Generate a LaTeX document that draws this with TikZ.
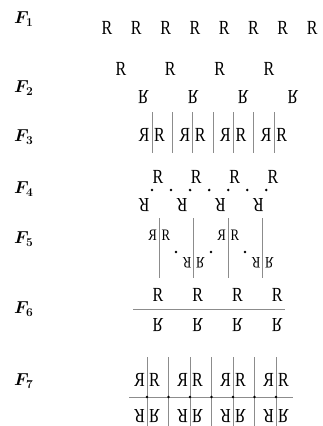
\documentclass[tikz,border=0pt]{standalone}
\usepackage{fontspec}
\setmainfont{Liberation Serif}
\usepackage{bm}
\newcommand\gR{\scalebox{0.8}[1]{R}}
\newcommand\gL{\reflectbox{\gR}}
\newcommand\gV{\scalebox{1}[-1]{\gR}}
\newcommand\gT{\rotatebox{180}{\gR}}
\begin{document}
\begin{tikzpicture}[x=1pt,y=-1pt,
  glyph/.style={inner sep=0pt,font=\fontsize{20}{22}\selectfont},
  sglyph/.style={inner sep=0pt,font=\fontsize{16}{18}\selectfont},
  lbl/.style={inner sep=0pt,anchor=base west,font=\fontsize{16.5}{18}\selectfont},
  axis/.style={draw=black!45,line width=0.8pt},
  pt/.style={circle,fill=black,inner sep=0pt,minimum size=2.8pt}]
\useasboundingbox (0,0) rectangle (322,426);
% labels
\node[lbl] (l1) at (14,23.5) {$\bm{F_1}$};
\node[lbl] (l2) at (14,92.5) {$\bm{F_2}$};
\node[lbl] (l3) at (14,141.5) {$\bm{F_3}$};
\node[lbl] (l4) at (14,193.5) {$\bm{F_4}$};
\node[lbl] (l5) at (14,243.5) {$\bm{F_5}$};
\node[lbl] (l6) at (14,313.5) {$\bm{F_6}$};
\node[lbl] (l7) at (14,385.5) {$\bm{F_7}$};
% F1
\foreach \i in {0,...,7}
  \node[glyph] (a\i) at ({107+29.3*\i},28) {\gR};
% F2
\foreach \i in {0,...,3}{
  \node[glyph] (b\i) at ({121+49.3*\i},69) {\gR};
  \node[glyph] (bb\i) at ({143.5+49.8*\i},97) {\gV};
}
% F3
\foreach \k in {0,...,3}{
  \coordinate (c\k t) at ({152+40.7*\k},112);
  \coordinate (c\k b) at ({152+40.7*\k},153);
  \draw[axis] (c\k t) -- (c\k b);
  \node[glyph] (cl\k) at ({152+40.7*\k-8},135) {\gL};
  \node[glyph] (cr\k) at ({152+40.7*\k+7.5},135) {\gR};
}
\foreach \k in {0,...,2}{
  \coordinate (cm\k t) at ({172.3+40.7*\k},112);
  \coordinate (cm\k b) at ({172.3+40.7*\k},153);
  \draw[axis] (cm\k t) -- (cm\k b);
}
% F4
\foreach \i in {0,...,3}{
  \node[glyph] (d\i) at ({158+38.3*\i},177) {\gR};
  \node[glyph] (dd\i) at ({144+38.1*\i},205) {\gT};
}
\foreach \i in {0,...,6}
  \node[pt] (dp\i) at ({152+19.05*\i},190) {};
% F5
\foreach \x [count=\k] in {159,193.5,228,262.5}{
  \coordinate (e\k t) at (\x,218);
  \coordinate (e\k b) at (\x,278);
  \draw[axis] (e\k t) -- (e\k b);
}
\node[sglyph] (el1) at (152.5,235) {\gL};
\node[sglyph] (er1) at (166,235) {\gR};
\node[sglyph] (el3) at (221.5,235) {\gL};
\node[sglyph] (er3) at (235,235) {\gR};
\node[sglyph] (el2) at (187,263) {\gT};
\node[sglyph] (er2) at (200.5,263) {\gV};
\node[sglyph] (el4) at (256,263) {\gT};
\node[sglyph] (er4) at (269.5,263) {\gV};
\node[pt] (ep1) at (176,252) {};
\node[pt] (ep2) at (211,252) {};
\node[pt] (ep3) at (245,252) {};
% F6
\coordinate (fl) at (133,309);
\coordinate (fr) at (285,309);
\draw[axis] (fl) -- (fr);
\foreach \i in {0,...,3}{
  \node[glyph] (f\i) at ({158+39.7*\i},295) {\gR};
  \node[glyph] (ff\i) at ({158+39.7*\i},325) {\gV};
}
% F7
\coordinate (gl) at (129,397);
\coordinate (gr) at (293,397);
\draw[axis] (gl) -- (gr);
\foreach \i in {0,...,6}{
  \coordinate (g\i t) at ({147+21.5*\i},357);
  \coordinate (g\i b) at ({147+21.5*\i},426);
  \draw[axis] (g\i t) -- (g\i b);
  \node[pt] (gp\i) at ({147+21.5*\i},397) {};
}
\foreach \k in {0,...,3}{
  \node[glyph] (gtl\k) at ({147+43*\k-7.5},380) {\gL};
  \node[glyph] (gtr\k) at ({147+43*\k+7.5},380) {\gR};
  \node[glyph] (gbl\k) at ({147+43*\k-7.5},416) {\gT};
  \node[glyph] (gbr\k) at ({147+43*\k+7.5},416) {\gV};
}
\end{tikzpicture}
\end{document}
